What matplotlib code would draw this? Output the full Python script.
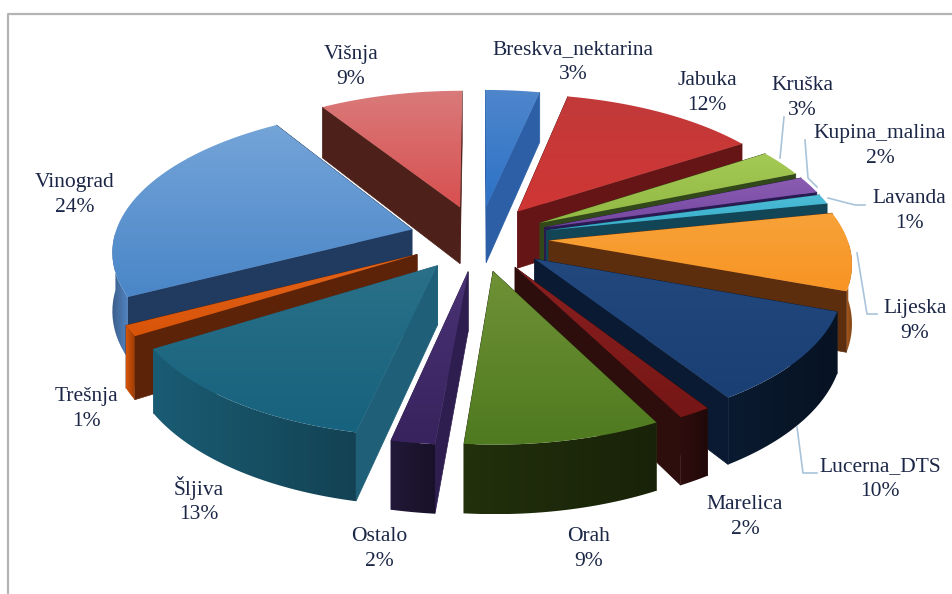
"3D exploded pie of land use shares"
import numpy as np
from matplotlib import pyplot as plt
from matplotlib.colors import to_rgb
from matplotlib.patches import Polygon

names = ["Breskva_nektarina", "Jabuka", "Kruška", "Kupina_malina", "Lavanda", "Lijeska",
         "Lucerna_DTS", "Marelica", "Orah", "Ostalo", "Šljiva", "Trešnja", "Vinograd", "Višnja"]
# labels only show whole percents, the slices read a bit finer
values = [3.4, 12.4, 3.0, 1.9, 1.1, 8.8, 10.3, 1.5, 9.0, 2.0, 12.8, 1.2, 23.6, 9.0]

# top face gradient (far end, near end), cut face, rim
top_far = ["#4f86cc", "#c23a3a", "#a4c955", "#8a5cb2", "#4dbcd6", "#f8a238", "#22487e", "#8a2020",
           "#6f9136", "#4a3274", "#2a7088", "#e2641a", "#74a4d8", "#da7a7a"]
top_near = ["#2c72c6", "#cf3634", "#92b944", "#7548a0", "#38aecb", "#f79424", "#1a3f74", "#761616",
            "#4f7a1f", "#38235e", "#17627e", "#d85408", "#4a86c8", "#d85050"]
cut_cols = ["#2c5fa6", "#651515", "#33481a", "#2a1a52", "#124656", "#5c2e0e", "#0a1a32", "#2e0d0d",
            "#26330e", "#2e1e50", "#1f6078", "#5c2308", "#203a60", "#4d201a"]
rim_cols = ["#2c5fa6", "#7a1c1c", "#5c7a28", "#4a2f70", "#1d7288", "#a4561a", "#0a1a30", "#2e0d0d",
            "#22300c", "#221838", "#1a5c74", "#d85408", "#5283c0", "#8a3030"]

label_pos = [(573, 62), (707, 93), (802, 98), (880, 146), (909, 211), (915, 321), (880, 479),
             (745, 517), (589, 549), (379, 549), (199, 500), (86, 409), (75, 195), (351, 67)]
leaders = [[(784, 117), (780, 158)],
           [(805, 140), (808, 178), (817, 187)],
           [(865, 205), (855, 205), (828, 198)],
           [(877, 314), (867, 314), (857, 253)],
           [(817, 473), (803, 473), (797, 427)]]

cx, cy = 479, 238
rx, ry = 298, 140
persp = 0.135
explode = 0.235
depth = 58


def project(u, v, down=False):
    s = 1 / (1 + persp * v)
    y = cy - ry * v * s
    if down:
        y = y + depth * s
    return cx + rx * u * s, y


def grad_face(ax, pts, col_a, col_b, z, horizontal=False):
    pts = np.array(pts)
    x0, y0 = pts.min(axis=0)
    x1, y1 = pts.max(axis=0)
    t = np.linspace(0, 1, 64)[:, None]
    arr = (1 - t) * np.array(to_rgb(col_a)) + t * np.array(to_rgb(col_b))
    arr = arr[None, :, :] if horizontal else arr[:, None, :]
    im = ax.imshow(arr, extent=(x0, x1, y1, y0), aspect='auto', zorder=z, interpolation='bilinear')
    clip = Polygon(pts, closed=True, transform=ax.transData, facecolor='none', edgecolor='none')
    ax.add_patch(clip)
    im.set_clip_path(clip)


def flat_face(ax, pts, col, z):
    ax.add_patch(Polygon(pts, closed=True, facecolor=col, edgecolor=col, linewidth=0.5, zorder=z))


fig = plt.figure(figsize=(9.52, 5.94), dpi=100)
ax = fig.add_axes([0, 0, 1, 1])

fracs = np.cumsum([0] + values) / sum(values)
angles = fracs * 2 * np.pi
mids = (angles[:-1] + angles[1:]) / 2
order = np.argsort(-np.cos(mids))

z = 2
for i in order:
    tu, tv = explode * np.sin(mids[i]), explode * np.cos(mids[i])
    th = np.linspace(angles[i], angles[i + 1], 40)
    us, vs = tu + np.sin(th), tv + np.cos(th)

    tip_top = project(tu, tv)
    tip_bot = project(tu, tv, True)
    arc_top = [project(u, v) for u, v in zip(us, vs)]
    arc_bot = [project(u, v, True) for u, v in zip(us, vs)]

    # two cut faces, far one first
    faces = [(vs[0], [tip_top, arc_top[0], arc_bot[0], tip_bot]),
             (vs[-1], [tip_top, arc_top[-1], arc_bot[-1], tip_bot])]
    faces.sort(key=lambda f: -f[0])
    for _, pts in faces:
        flat_face(ax, pts, cut_cols[i], z)
        z += 1

    # rim, only the part turned to the viewer
    front = np.cos(th) < 0
    if front.sum() > 1:
        top = [p for p, f in zip(arc_top, front) if f]
        bot = [p for p, f in zip(arc_bot, front) if f]
        dark = tuple(0.72 * c for c in to_rgb(rim_cols[i]))
        left, right = (rim_cols[i], dark) if i != 12 else (dark, rim_cols[i])
        grad_face(ax, top + bot[::-1], left, right, z, horizontal=True)
        z += 1

    grad_face(ax, [tip_top] + arc_top, top_far[i], top_near[i], z)
    z += 1

for line in leaders:
    xs, ys = zip(*line)
    ax.plot(xs, ys, color="#a9c4da", lw=1.2, zorder=z)

for name, val, (lx, ly) in zip(names, values, label_pos):
    ax.text(lx, ly, f"{name}\n{val:.0f}%", ha='center', va='center', fontsize=15.5,
            family='Liberation Serif', color="#1c2747", linespacing=1.42, zorder=z + 1)

ax.plot([8, 8, 952], [594, 14, 14], color="#b4b4b4", lw=1.6, zorder=1)

ax.set_xlim(0, 952)
ax.set_ylim(594, 0)
ax.axis('off')
fig.savefig("out.png", dpi=100, facecolor='white')
